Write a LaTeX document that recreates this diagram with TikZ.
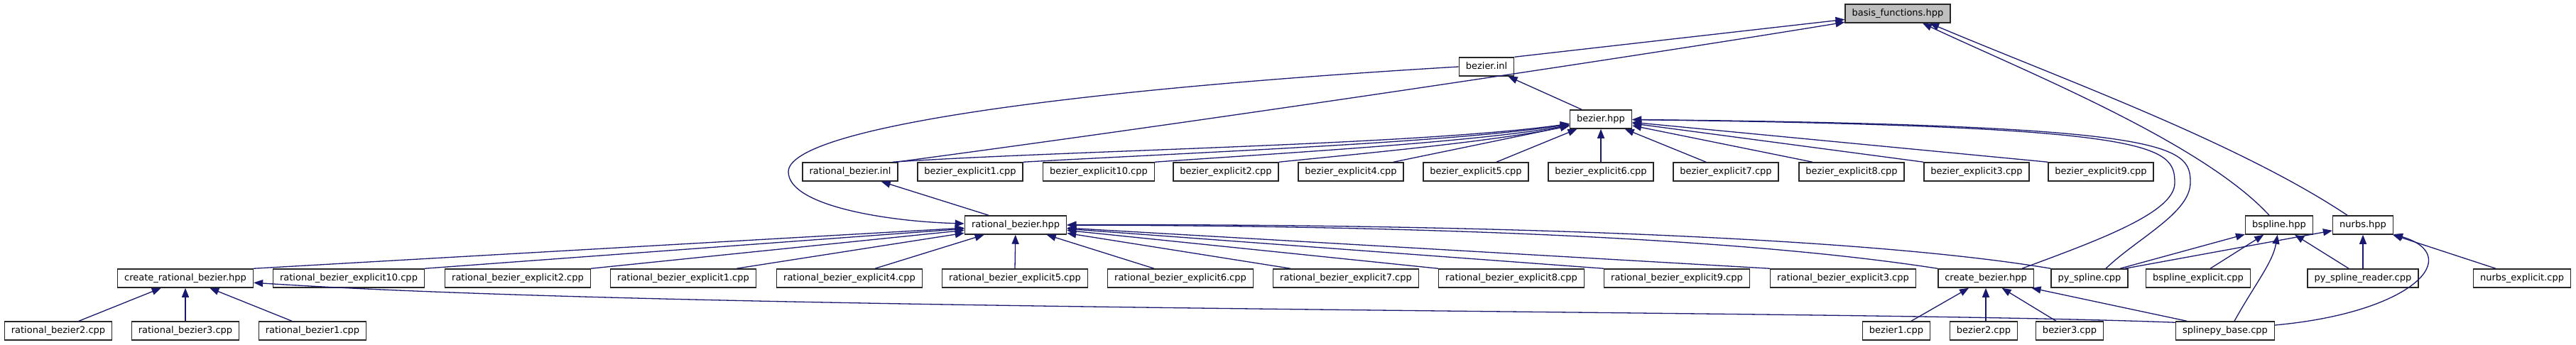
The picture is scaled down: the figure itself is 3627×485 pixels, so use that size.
\documentclass[tikz,border=0pt]{standalone}
\usepackage{fontspec}
\setmainfont{DejaVu Sans}
\usetikzlibrary{arrows.meta,calc}
\definecolor{edgeblue}{HTML}{191970}
\definecolor{boxgrey}{HTML}{BFBFBF}
\begin{document}
\begin{tikzpicture}[x=1pt,y=-1pt,
  box/.style={draw=black!85, fill=white, line width=1.5pt, inner xsep=9.5pt, inner ysep=0pt,
    minimum height=26pt, font=\fontsize{13}{15}\selectfont, text height=9.5pt, text depth=2.8pt},
  edge/.style={draw=edgeblue, line width=1.3pt, -{Triangle[length=13pt,width=10pt]}},
]
\useasboundingbox (0,0) rectangle (3627,485);
\fill[white] (0,0) rectangle (3627,485);

% row 0
\node[box, fill=boxgrey] (basis) at (2672,19) {basis\_functions.hpp};
% row 1
\node[box] (bezinl) at (2093,94) {bezier.inl};
% row 2
\node[box] (bh) at (2254,168) {bezier.hpp};
% row 3
\node[box] (rbinl) at (1197,242) {rational\_bezier.inl};
\node[box] (be1) at (1366,242) {bezier\_explicit1.cpp};
\node[box] (be10) at (1547,242) {bezier\_explicit10.cpp};
\node[box] (be2) at (1726,242) {bezier\_explicit2.cpp};
\node[box] (be4) at (1902,242) {bezier\_explicit4.cpp};
\node[box] (be5) at (2078,242) {bezier\_explicit5.cpp};
\node[box] (be6) at (2254,242) {bezier\_explicit6.cpp};
\node[box] (be7) at (2430,242) {bezier\_explicit7.cpp};
\node[box] (be8) at (2607,242) {bezier\_explicit8.cpp};
\node[box] (be3) at (2783,242) {bezier\_explicit3.cpp};
\node[box] (be9) at (2958,242) {bezier\_explicit9.cpp};
% row 4
\node[box] (rbh) at (1430,317) {rational\_bezier.hpp};
\node[box] (bs) at (3209,317) {bspline.hpp};
\node[box] (nu) at (3327,317) {nurbs.hpp};
% row 5
\node[box] (crb) at (261,392) {create\_rational\_bezier.hpp};
\node[box] (rbe10) at (491,392) {rational\_bezier\_explicit10.cpp};
\node[box] (rbe2) at (729,392) {rational\_bezier\_explicit2.cpp};
\node[box] (rbe1) at (962,392) {rational\_bezier\_explicit1.cpp};
\node[box] (rbe4) at (1196,392) {rational\_bezier\_explicit4.cpp};
\node[box] (rbe5) at (1429,392) {rational\_bezier\_explicit5.cpp};
\node[box] (rbe6) at (1662,392) {rational\_bezier\_explicit6.cpp};
\node[box] (rbe7) at (1895,392) {rational\_bezier\_explicit7.cpp};
\node[box] (rbe8) at (2128,392) {rational\_bezier\_explicit8.cpp};
\node[box] (rbe9) at (2361,392) {rational\_bezier\_explicit9.cpp};
\node[box] (rbe3) at (2595,392) {rational\_bezier\_explicit3.cpp};
\node[box] (cb) at (2796,392) {create\_bezier.hpp};
\node[box] (ps) at (2942,392) {py\_spline.cpp};
\node[box] (bse) at (3095,392) {bspline\_explicit.cpp};
\node[box] (psr) at (3327,392) {py\_spline\_reader.cpp};
\node[box] (ne) at (3551,392) {nurbs\_explicit.cpp};
% row 6
\node[box] (rb2) at (82,466) {rational\_bezier2.cpp};
\node[box] (rb3) at (261,466) {rational\_bezier3.cpp};
\node[box] (rb1) at (440,466) {rational\_bezier1.cpp};
\node[box] (b1) at (2670,466) {bezier1.cpp};
\node[box] (b2) at (2793,466) {bezier2.cpp};
\node[box] (b3) at (2914,466) {bezier3.cpp};
\node[box] (sb) at (3133,466) {splinepy\_base.cpp};

\coordinate (loopL) at (1110,242);

% edges into basis_functions.hpp
\draw[edge] (bezinl.north east) -- (basis);
\draw[edge] ($(rbinl.north east)+(-3,0)$) .. controls (1700,170) and (2300,80) .. (basis);
\draw[edge] ($(bs.north)+(-14,0)$) .. controls (3100,200) and (2850,100) .. ($(basis.south)+(35,0)$);
\draw[edge] ($(nu.north)+(-22,0)$) .. controls (3150,200) and (2900,110) .. ($(basis.south)+(45,0)$);

% bezier.hpp -> bezier.inl, bezier.inl -> rational_bezier.hpp
\draw[edge] ($(bh.north)+(-27,0)$) -- (bezinl);
\draw[edge] (bezinl.west) .. controls (1450,130) and (1110,185) .. (loopL)
  .. controls (1110,290) and (1250,312) .. (rbh);

% into bezier.hpp
\draw[edge] ($(rbinl.north east)+(-8,0)$) .. controls (1500,212) and (2000,204) .. (bh);
\draw[edge] (be1.north east) .. controls (1700,214) and (2050,200) .. (bh);
\draw[edge] (be10.north east) .. controls (1800,216) and (2080,200) .. (bh);
\draw[edge] (be2.north east) .. controls (1900,218) and (2100,200) .. (bh);
\draw[edge] ($(be4.north)+(60,0)$) -- (bh);
\draw[edge] ($(be5.north)+(29,0)$) -- (bh);
\draw[edge] (be6.north) -- (bh);
\draw[edge] ($(be7.north)+(-28,0)$) -- (bh);
\draw[edge] ($(be8.north)+(-55,0)$) -- (bh);
\draw[edge] (be3.north west) -- (bh);
\draw[edge] (be9.north west) -- (bh);
\draw[edge] ($(cb.north east)+(-17,0)$) .. controls (2950,340) and (3062,300) .. (3062,258)
  .. controls (3062,205) and (3040,178) .. (bh);
\draw[edge] ($(ps.north)+(23,0)$) .. controls (3010,335) and (3084,300) .. (3084,257)
  .. controls (3084,205) and (3060,176) .. (bh);

% rational_bezier.hpp -> rational_bezier.inl
\draw[edge] ($(rbh.north)+(-38,0)$) -- (rbinl);

% into rational_bezier.hpp
\draw[edge] (crb.north east) -- (rbh);
\draw[edge] (rbe10.north east) -- (rbh);
\draw[edge] (rbe2.north east) -- (rbh);
\draw[edge] ($(rbe1.north)+(75,0)$) -- (rbh);
\draw[edge] ($(rbe4.north)+(36,0)$) -- (rbh);
\draw[edge] (rbe5.north) -- (rbh);
\draw[edge] ($(rbe6.north)+(-37,0)$) -- (rbh);
\draw[edge] ($(rbe7.north)+(-78,0)$) -- (rbh);
\draw[edge] (rbe8.north west) -- (rbh);
\draw[edge] (rbe9.north west) -- (rbh);
\draw[edge] (rbe3.north west) -- (rbh);
\draw[edge] (cb.north west) .. controls (2450,335) and (2000,318) .. (rbh);
\draw[edge] (ps.north west) .. controls (2600,330) and (2000,315) .. (rbh);

% into create_rational_bezier.hpp
\draw[edge] ($(rb2.north)+(29,0)$) -- (crb);
\draw[edge] (rb3.north) -- (crb);
\draw[edge] ($(rb1.north)+(-29,0)$) -- (crb);
\draw[edge] ($(sb.north west)+(0,2)$) .. controls (2600,436) and (1000,440) .. (crb);

% into create_bezier.hpp
\draw[edge] ($(b1.north)+(21,0)$) -- (cb);
\draw[edge] ($(b2.north)+(3,0)$) -- (cb);
\draw[edge] ($(b3.north)+(-19,0)$) -- (cb);
\draw[edge] ($(sb.north)+(-54,0)$) -- (cb);

% into bspline.hpp / nurbs.hpp
\draw[edge] ($(ps.north)+(43,0)$) -- (bs);
\draw[edge] ($(ps.north)+(50,0)$) -- (nu);
\draw[edge] ($(bse.north)+(17,0)$) -- (bs);
\draw[edge] ($(psr.north)+(-20,0)$) -- (bs);
\draw[edge] (psr.north) -- (nu);
\draw[edge] ($(ne.north)+(-37,0)$) -- (nu);
\draw[edge] ($(sb.north)+(13,0)$) .. controls (3175,400) and (3200,370) .. (bs);
\draw[edge] ($(sb.east)+(0,-8)$) .. controls (3400,440) and (3470,360) .. (nu);
\end{tikzpicture}
\end{document}
